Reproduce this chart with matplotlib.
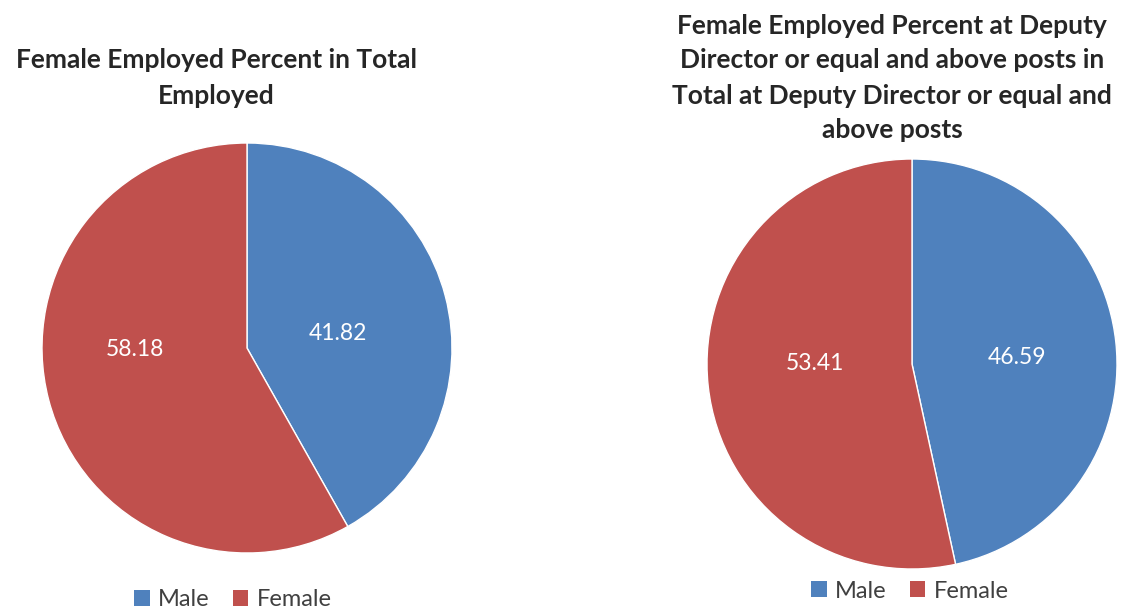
import matplotlib
matplotlib.use('Agg')
import matplotlib.pyplot as plt
from matplotlib.patches import Patch

categories = ['Male', 'Female']
total_pct = [41.82, 58.18]
deputy_pct = [46.59, 53.41]
title_total = 'Female Employed Percent in Total\nEmployed'
title_deputy = ('Female Employed Percent at Deputy\nDirector or equal and above posts in\n'
                'Total at Deputy Director or equal and\nabove posts')

colors = ['#4F81BD', '#C0504D']
W, H = 1128, 612

plt.rcParams['font.family'] = ['Lato', 'DejaVu Sans']

fig = plt.figure(figsize=(W / 100, H / 100), dpi=100)


def px_axes(cx, cy, r):
    return fig.add_axes([(cx - r) / W, (H - cy - r) / H, 2 * r / W, 2 * r / H])


def draw_pie(ax, values, label_pos):
    wedges, texts = ax.pie(values, colors=colors, startangle=90, counterclock=False, radius=1,
                           wedgeprops=dict(edgecolor='white', linewidth=1))
    for v, (x, y) in zip(values, label_pos):
        ax.text(x, y, f'{v:.2f}', color='white', fontsize=16.5, ha='center', va='center')
    ax.set_xlim(-1.0, 1.0)
    ax.set_ylim(-1.0, 1.0)
    ax.set_aspect('equal')
    ax.axis('off')
    return wedges


ax1 = px_axes(247, 348, 205)
draw_pie(ax1, total_pct, [(0.444, 0.073), (-0.546, -0.005)])
ax2 = px_axes(912, 364, 205)
draw_pie(ax2, deputy_pct, [(0.512, 0.03), (-0.473, 0.0)])

fig.text(216 / W, 1 - 78 / H, title_total, ha='center', va='center', fontsize=19,
         fontweight='bold', color='#262626', linespacing=1.55)
fig.text(892 / W, 1 - 78 / H, title_deputy, ha='center', va='center', fontsize=19,
         fontweight='bold', color='#262626', linespacing=1.55)

handles = [Patch(facecolor=c, edgecolor='none') for c in colors]
for cx, cy in [(233, 600), (910, 591)]:
    fig.legend(handles, categories, loc='center', bbox_to_anchor=(cx / W, 1 - cy / H),
               ncol=2, frameon=False, fontsize=17, handlelength=0.65, handleheight=0.65,
               handletextpad=0.35, columnspacing=1.0, labelcolor='#404040')

fig.savefig('out.png', dpi=100)
